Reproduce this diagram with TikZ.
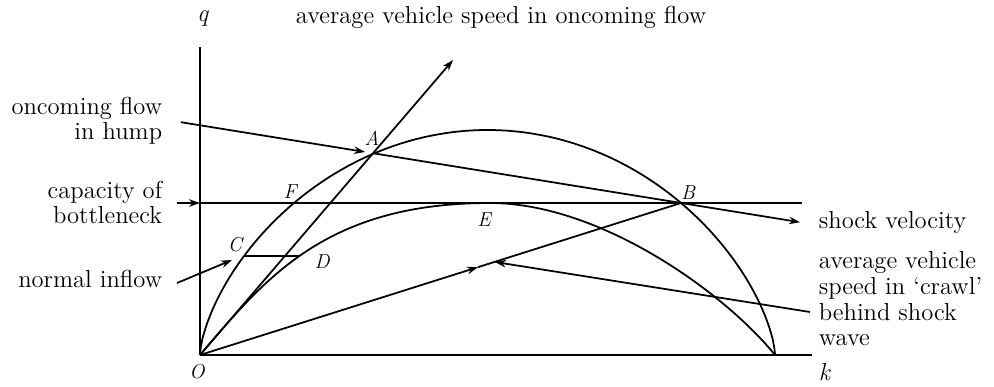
\documentclass[tikz,border=0pt]{standalone}
\usepackage{amsmath,amssymb}
\usetikzlibrary{arrows.meta,calc}

\begin{document}
\begin{tikzpicture}[
  x=0.02cm, y=-0.02cm,
  line width=1pt,
  >={Stealth[length=2.2mm,width=1.5mm]},
  lbl/.style={inner sep=0pt, font=\fontsize{14}{14.6}\selectfont},
  pt/.style={inner sep=0pt, font=\fontsize{11.5}{13}\selectfont\itshape}
]
  \useasboundingbox (0,0) rectangle (994,386);

  \coordinate (O)  at (200,355);
  \coordinate (K)  at (775,355);
  \coordinate (kend) at (812,355);
  \coordinate (qtop) at (200,47);
  \coordinate (A)  at (374,153.4);
  \coordinate (B)  at (681,203);
  \coordinate (C)  at (244,256);
  \coordinate (D)  at (300,256);
  \coordinate (E)  at (490,203);
  \coordinate (capL) at (200,203);
  \coordinate (capR) at (802,203);
  \coordinate (capin) at (177,203);
  \coordinate (vtip) at (453,60);
  \coordinate (humpin) at (181,122.2);
  \coordinate (shockend) at (800,222.2);
  \coordinate (inflowin) at (177,283);
  \coordinate (inflowtip) at (232,260);
  \coordinate (crawlin) at (810,312);
  \coordinate (crawltip) at (495,262);
  \coordinate (mOB) at ($(O)!0.578!(B)$);

  \draw (O) -- (qtop);
  \draw (O) -- (kend);
  \draw (O) -- plot[domain=0.2:179.8, samples=180, variable=\t]
        ({487.5-287.5*cos(\t)}, {355-225*(abs(sin(\t)))^1.3}) -- (K);
  \draw (O) .. controls (265,279) and (325,203) .. (E)
            .. controls (600,203) and (724.6,292.6) .. (K);
  \draw (capL) -- (capR);
  \draw[->] (capin) -- (capL);
  \draw[->] (O) -- (vtip);
  \draw[->, shorten >=1.8mm] (humpin) -- (A);
  \draw[->] (A) -- (shockend);
  \draw (C) -- (D);
  \draw[->] (inflowin) -- (inflowtip);
  \draw[->] (O) -- (mOB);
  \draw (mOB) -- (B);
  \draw[->] (crawlin) -- (crawltip);

  \node[lbl] (qlbl) at (203,18) {\textit{q}};
  \node[lbl, anchor=base] (klbl) at (825,380) {\textit{k}};
  \node[lbl, anchor=base west] (vlbl) at (295,23) {average vehicle speed in oncoming flow};
  \node[lbl, anchor=north east, align=right] (hump) at (163,96) {oncoming flow\\in hump};
  \node[lbl, anchor=north east, align=right] (cap) at (163,180) {capacity of\\bottleneck};
  \node[lbl, anchor=base east] (inflow) at (163,287) {normal inflow};
  \node[lbl, anchor=base west] (shock) at (818,228) {shock velocity};
  \node[lbl, anchor=north west, align=left] (crawl) at (818,251)
       {average vehicle\\speed in \textquoteleft crawl\textquoteright\\behind shock\\wave};

  \node[pt] (Albl) at (372,138) {A};
  \node[pt] (Blbl) at (688,193) {B};
  \node[pt] (Clbl) at (235,245) {C};
  \node[pt] (Dlbl) at (322,262) {D};
  \node[pt] (Elbl) at (484,220) {E};
  \node[pt] (Flbl) at (290,192) {F};
  \node[pt] (Olbl) at (197,372) {O};
\end{tikzpicture}
\end{document}
